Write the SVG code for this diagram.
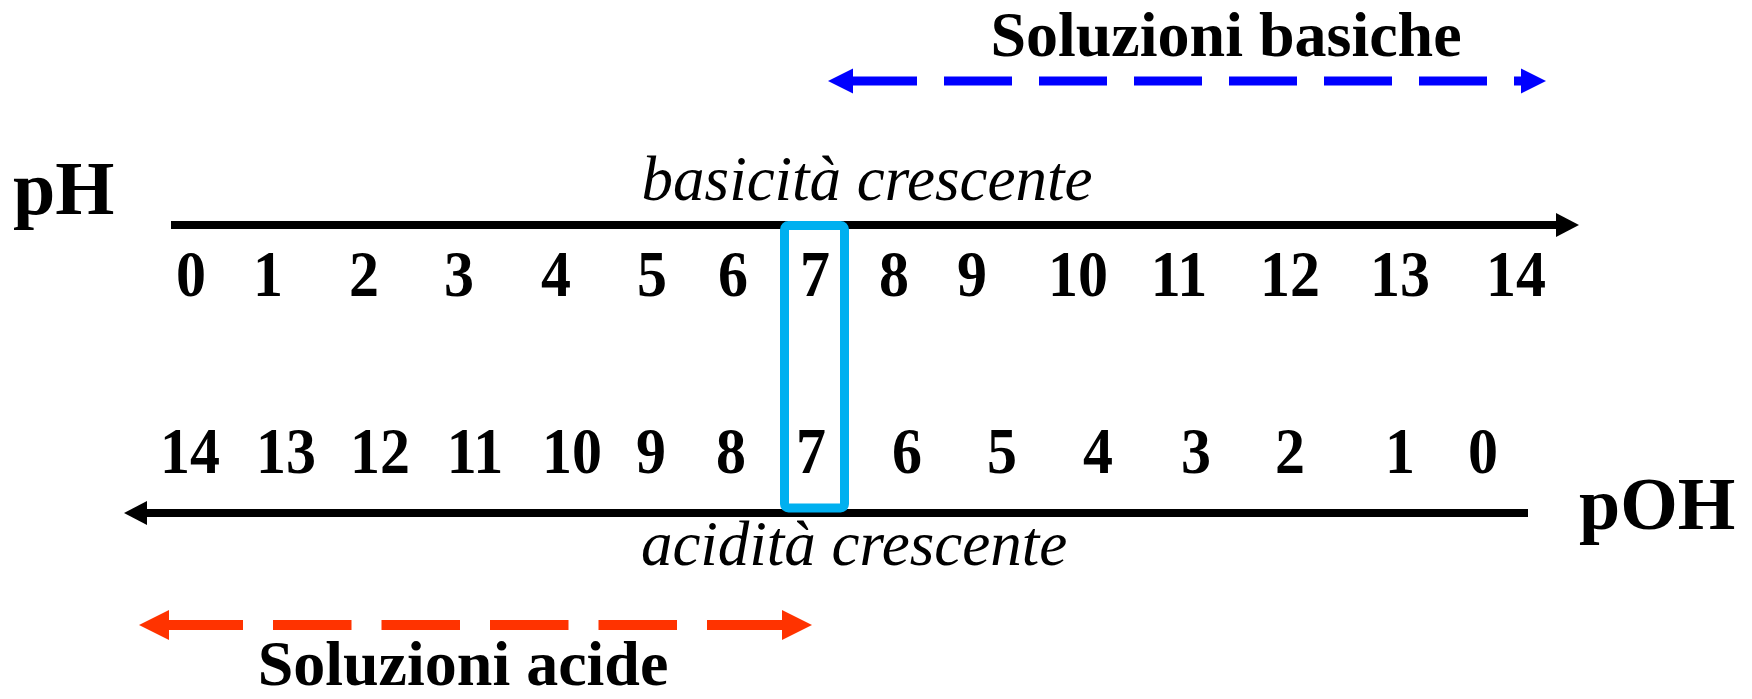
<svg xmlns="http://www.w3.org/2000/svg" width="1752" height="699" viewBox="0 0 1752 699">
<style>
.lbl{font-family:"Liberation Serif","Times New Roman",serif;font-weight:bold;fill:#000}
.num{font-family:"Liberation Serif","Times New Roman",serif;font-weight:bold;font-size:60px;fill:#000;text-anchor:middle}
.it{font-family:"Liberation Serif","Times New Roman",serif;font-style:italic;font-size:63px;fill:#000;text-anchor:middle}
.axis{stroke:#000;stroke-width:8;fill:none}
</style>
<defs>
<marker id="hk" markerUnits="userSpaceOnUse" markerWidth="24" markerHeight="24" refX="0" refY="12" orient="auto-start-reverse" overflow="visible"><path d="M0,0 L23,12 L0,24 z" fill="#000"/></marker>
<marker id="hb" markerUnits="userSpaceOnUse" markerWidth="26" markerHeight="25" refX="0" refY="12.5" orient="auto-start-reverse" overflow="visible"><path d="M0,0 L25,12.5 L0,25 z" fill="#0000FF"/></marker>
<marker id="hr" markerUnits="userSpaceOnUse" markerWidth="30" markerHeight="30" refX="0" refY="15" orient="auto-start-reverse" overflow="visible"><path d="M0,0 L30,15 L0,30 z" fill="#FF3300"/></marker>
</defs>
<rect width="1752" height="699" fill="#fff"/>
<g id="connectors">
<line class="axis" x1="171" y1="225" x2="1556" y2="225" marker-end="url(#hk)"/>
<line class="axis" x1="1528" y1="513" x2="147" y2="513" marker-end="url(#hk)"/>
<line x1="853" y1="81" x2="1521" y2="81" stroke="#0000FF" stroke-width="9" stroke-dasharray="68 27" stroke-dashoffset="4" marker-start="url(#hb)" marker-end="url(#hb)"/>
<line x1="169" y1="625" x2="782" y2="625" stroke="#FF3300" stroke-width="10" stroke-dasharray="78.5 30" stroke-dashoffset="4.5" marker-start="url(#hr)" marker-end="url(#hr)"/>
</g>
<g id="neutral-box">
<rect x="784.5" y="225.5" width="60" height="282.5" rx="4" fill="none" stroke="#00B0F0" stroke-width="9"/>
</g>
<g id="label-basiche"><text class="lbl" x="1226" y="56" font-size="64" text-anchor="middle">Soluzioni basiche</text></g>
<g id="label-acide"><text class="lbl" x="463" y="685" font-size="64" text-anchor="middle">Soluzioni acide</text></g>
<g id="label-pH"><text class="lbl" x="13" y="214" font-size="76">pH</text></g>
<g id="label-pOH"><text class="lbl" x="1579" y="529" font-size="74">pOH</text></g>
<g id="label-basicita"><text class="it" x="867" y="200">basicità crescente</text></g>
<g id="label-acidita"><text class="it" x="854" y="565">acidità crescente</text></g>
<g id="ph-scale" transform="translate(0,296) scale(1,1.1)">
<text class="num" x="191" y="0">0</text>
<text class="num" x="268" y="0">1</text>
<text class="num" x="364" y="0">2</text>
<text class="num" x="459" y="0">3</text>
<text class="num" x="556" y="0">4</text>
<text class="num" x="652" y="0">5</text>
<text class="num" x="733" y="0">6</text>
<text class="num" x="815" y="0">7</text>
<text class="num" x="894" y="0">8</text>
<text class="num" x="972" y="0">9</text>
<text class="num" x="1078" y="0">10</text>
<text class="num" x="1179" y="0">11</text>
<text class="num" x="1290" y="0">12</text>
<text class="num" x="1400" y="0">13</text>
<text class="num" x="1516" y="0">14</text>
</g>
<g id="poh-scale" transform="translate(0,473) scale(1,1.1)">
<text class="num" x="190" y="0">14</text>
<text class="num" x="286" y="0">13</text>
<text class="num" x="380" y="0">12</text>
<text class="num" x="475" y="0">11</text>
<text class="num" x="572" y="0">10</text>
<text class="num" x="651" y="0">9</text>
<text class="num" x="731" y="0">8</text>
<text class="num" x="811" y="0">7</text>
<text class="num" x="907" y="0">6</text>
<text class="num" x="1002" y="0">5</text>
<text class="num" x="1098" y="0">4</text>
<text class="num" x="1196" y="0">3</text>
<text class="num" x="1290" y="0">2</text>
<text class="num" x="1400" y="0">1</text>
<text class="num" x="1483" y="0">0</text>
</g>
</svg>
